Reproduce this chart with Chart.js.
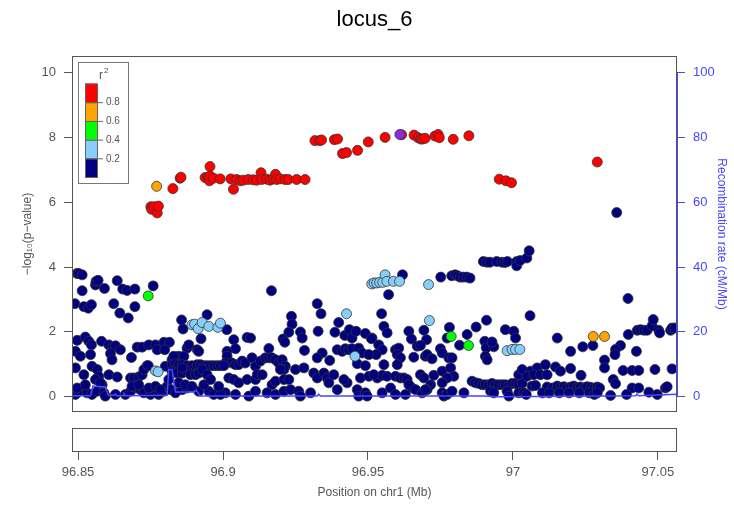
<!DOCTYPE html>
<html>
<head>
<meta charset="utf-8">
<script src="https://cdn.jsdelivr.net/npm/chart.js@4.4.1/dist/chart.umd.min.js"></script>
<style>
  body { margin: 0; background: #fff; }
  #wrap { position: relative; width: 734px; height: 506px; }
  canvas { position: absolute; left: 0; top: 0; }
</style>
</head>
<body>
<div id="wrap">
  <canvas id="main" width="734" height="506"></canvas>
  <canvas id="genes" width="734" height="506"></canvas>
</div>
<script>
// DATA  (position in Mb, -log10 p)
const posRange = [96.8479, 97.0566];
const posTicks = [96.85, 96.9, 96.95, 97, 97.05];
const logpTicks = [0, 2, 4, 6, 8, 10];
const recombTicks = [0, 20, 40, 60, 80, 100];
const r2Breaks = [0.2, 0.4, 0.6, 0.8];

const leadSnp = [[96.9610, 8.09]];

const redSnps = [
  [96.8751,5.86],[96.8754,5.78],[96.8762,5.86],[96.8773,5.67],[96.8777,5.88],[96.8827,6.42],[96.8852,6.74],[96.8855,6.77],
  [96.8938,6.76],[96.8949,6.76],[96.8953,6.66],[96.8955,6.81],[96.8955,7.10],[96.8967,6.74],[96.8990,6.72],[96.9036,6.40],
  [96.9027,6.72],[96.9047,6.70],[96.9059,6.66],[96.9070,6.68],[96.9087,6.70],[96.9104,6.69],[96.9116,6.68],[96.9131,6.91],
  [96.9133,6.70],[96.9151,6.71],[96.9162,6.68],[96.9173,6.72],[96.9181,6.86],[96.9185,6.70],[96.9197,6.72],[96.9214,6.70],
  [96.9225,6.70],[96.9254,6.70],[96.9283,6.70],[96.9317,7.90],[96.9334,7.90],[96.9340,7.92],[96.9384,7.93],[96.9395,7.95],
  [96.9412,7.50],[96.9426,7.53],[96.9464,7.60],[96.9501,7.86],[96.9559,8.00],[96.9616,8.08],[96.9659,8.07],[96.9673,7.99],
  [96.9682,7.95],[96.9688,7.95],[96.9697,7.97],[96.9731,8.04],[96.9742,8.09],[96.9746,7.99],[96.9794,7.94],[96.9848,8.05],
  [96.9953,6.71],[96.9976,6.66],[96.9995,6.60],[97.0291,7.24]
];

const orangeSnps = [[96.8771,6.49],[97.0277,1.86],[97.0316,1.86]];

const greenSnps = [[96.8742,3.11],[96.9787,1.86],[96.9847,1.58]];

const lightBlueSnps = [
  [96.8767,0.80],[96.8776,0.77],[96.8893,2.22],[96.8902,2.24],[96.8914,2.10],[96.8928,2.29],[96.8951,2.17],[96.8982,2.14],
  [96.8991,2.27],[96.9426,2.56],[96.9455,1.25],[96.9513,3.48],[96.9521,3.51],[96.9530,3.51],[96.9540,3.53],[96.9551,3.53],
  [96.9559,3.76],[96.9565,3.56],[96.9588,3.56],[96.9609,3.56],[96.9709,3.46],[96.9712,2.35],[96.9980,1.42],[96.9997,1.46],
  [97.0009,1.46],[97.0024,1.46]
];

const navyLeft = [
  [96.8496,3.80],[96.8502,3.80],[96.8514,3.76],[96.8514,3.27],[96.8560,3.45],[96.8562,3.56],[96.8569,3.59],[96.8591,3.34],
  [96.8635,3.58],[96.8654,3.32],[96.8669,3.28],[96.8696,3.32],[96.8759,3.42],[96.8489,2.87],[96.8520,2.78],[96.8535,2.73],
  [96.8546,2.84],[96.8623,2.87],[96.8696,2.78],[96.8644,2.58],[96.8673,2.43],[96.8857,2.37],[96.8862,2.09],[96.8945,2.53],
  [96.8924,1.79],[96.8497,1.74],[96.8525,1.84],[96.8537,1.71],[96.8546,1.60],[96.8581,1.71],[96.8606,1.60],[96.8620,1.53],
  [96.8629,1.57],[96.8646,1.45],[96.8704,1.53],[96.8721,1.53],[96.8744,1.60],[96.8767,1.60],[96.8773,1.45],[96.8796,1.68],
  [96.8815,1.68],[96.8799,1.45],[96.8876,1.50],[96.8882,1.60],[96.8911,1.45],[96.8916,1.40],[96.8491,1.40],[96.8508,1.25],
  [96.8543,1.30],[96.8612,1.33],[96.8617,1.14],[96.8684,1.21],[96.8738,0.96],[96.8824,1.14],[96.8847,1.25],[96.8865,1.25],
  [96.8830,1.25],[96.8491,0.89],[96.8520,0.68],[96.8548,0.94],[96.8566,0.84],[96.8571,0.63],[96.8606,0.68],[96.8635,0.61],
  [96.8681,0.58],[96.8692,0.58],[96.8709,0.61],[96.8721,0.68],[96.8727,0.84],[96.8742,0.96],[96.8801,0.94],
  [96.8824,0.99],[96.8836,1.02],[96.8847,0.99],[96.8859,0.99],[96.8876,0.96],[96.8893,0.96],[96.8911,0.99],[96.8922,0.99],
  [96.8934,0.96],[96.8945,0.96],[96.8957,0.96],[96.8968,0.96],[96.8980,0.96],[96.8991,0.96],[96.9003,0.96],
  [96.8824,0.78],[96.8842,0.73],[96.8859,0.73],[96.8876,0.78],[96.8888,0.68],[96.8905,0.68],[96.8916,0.73],[96.8928,0.84],
  [96.8945,0.68],[96.8859,0.89],[96.8491,0.07],[96.8502,0.17],[96.8531,0.12],[96.8548,0.07],[96.8566,0.17],[96.8583,0.37],
  [96.8589,0.12],[96.8594,0.02],[96.8629,0.07],[96.8663,0.07],[96.8681,0.17],[96.8692,0.32],[96.8704,0.27],[96.8715,0.22],
  [96.8727,0.12],[96.8750,0.07],[96.8778,0.07],[96.8796,0.17],[96.8807,0.32],[96.8819,0.22],[96.8836,0.12],[96.8859,0.22],
  [96.8876,0.27],[96.8916,0.17],[96.8951,0.17],[96.8968,0.07],[96.8991,0.07],[96.8497,0.27],[96.8525,0.37],[96.8560,0.53],
  [96.8577,0.43],[96.8686,0.32],[96.8709,0.37],[96.8744,0.27],[96.8767,0.32],[96.8784,0.22],[96.8813,0.53],[96.8847,0.43],
  [96.8870,0.37],[96.8893,0.32],[96.8934,0.37],[96.8957,0.53],[96.8985,0.32]
];

const navyMid = [
  [96.9167,3.27],[96.9325,2.87],[96.9338,2.56],[96.9236,2.48],[96.9238,2.24],[96.9227,1.99],[96.9267,2.00],[96.9273,1.81],
  [96.9207,1.78],[96.9213,1.68],[96.9328,2.02],[96.9386,1.99],[96.9399,2.29],[96.9420,1.89],[96.9436,2.07],[96.9445,1.81],
  [96.9459,2.02],[96.9491,1.95],[96.9512,1.79],[96.9013,2.07],[96.9037,1.76],[96.9083,1.83],[96.9095,1.81],[96.9158,1.49],
  [96.9281,1.43],[96.9342,1.35],[96.9325,1.20],[96.9368,1.12],[96.9394,1.45],[96.9411,1.40],[96.9422,1.48],[96.9434,1.45],
  [96.9445,1.48],[96.9468,1.50],[96.9480,1.35],[96.9503,1.30],[96.9463,1.02],[96.9491,0.96],[96.9043,1.48],
  [96.9014,1.40],[96.9014,1.25],[96.9008,1.04],[96.9031,1.04],[96.9043,0.99],[96.9054,0.99],[96.9066,1.10],[96.9077,1.04],
  [96.9100,1.20],[96.9112,0.94],[96.9129,1.10],[96.9146,1.20],[96.9158,1.20],[96.9169,1.20],[96.9181,1.14],[96.9192,1.04],
  [96.9204,1.14],[96.9215,0.94],[96.9210,0.84],[96.9198,0.84],[96.9250,0.84],[96.9279,0.89],[96.9313,0.73],[96.9325,0.58],
  [96.9348,0.73],[96.9359,0.58],[96.9365,0.43],[96.9382,0.68],[96.9428,0.43],[96.9417,0.53],[96.9474,0.58],[96.9503,0.63],
  [96.9520,0.68],[96.9020,0.58],[96.9037,0.53],[96.9054,0.43],[96.9083,0.53],[96.9112,0.53],[96.9118,0.68],[96.9135,0.68],
  [96.9169,0.37],[96.9181,0.48],[96.9210,0.53],[96.9227,0.53],[96.9008,0.12],[96.9043,0.07],[96.9089,0.02],[96.9112,0.17],
  [96.9152,0.12],[96.9181,0.07],[96.9210,0.17],[96.9233,0.22],[96.9261,0.17],[96.9267,0.02],[96.9302,0.12],[96.9394,0.22],
  [96.9463,0.22],[96.9468,0.02],[96.9491,0.12],[96.9497,0.02]
];

const navyRight = [
  [96.9619,3.76],[96.9751,3.69],[96.9789,3.73],[96.9801,3.76],[96.9809,3.73],[96.9818,3.69],[96.9829,3.69],[96.9841,3.69],
  [96.9852,3.66],[96.9571,3.15],[96.9898,4.17],[96.9910,4.15],[96.9921,4.15],[96.9944,4.17],[96.9962,4.15],[96.9973,4.14],
  [96.9981,4.17],[97.0013,4.17],[97.0013,4.04],[97.0025,4.20],[97.0048,4.28],[97.0056,4.50],[97.0059,2.50],[97.0397,3.03],
  [97.0358,5.68],[96.9547,2.56],[96.9555,2.17],[96.9566,1.97],[96.9641,2.02],[96.9650,1.78],[96.9693,2.05],[96.9702,1.76],
  [96.9781,2.14],[96.9773,1.81],[96.9842,1.92],[96.9816,1.59],[96.9873,2.15],[96.9909,2.36],[96.9903,1.71],[96.9908,1.51],
  [96.9934,1.54],[96.9928,1.69],[96.9905,1.25],[96.9911,1.14],[96.9974,2.07],[97.0003,2.02],[97.0009,1.81],
  [96.9514,1.81],[96.9537,1.60],[96.9549,1.45],[96.9528,1.30],[96.9595,1.45],[96.9606,1.50],[96.9601,1.30],[96.9612,1.20],
  [96.9670,1.56],[96.9681,1.58],[96.9658,1.22],[96.9698,1.25],[96.9704,1.30],[96.9721,1.17],[96.9750,1.48],[96.9756,1.35],
  [96.9779,1.20],[96.9790,1.20],[96.9555,0.99],[96.9601,0.99],[96.9681,0.68],[96.9693,0.58],[96.9727,0.66],[96.9756,0.79],
  [96.9785,0.89],[96.9796,0.63],[96.9773,0.58],[96.9532,0.58],[96.9549,0.66],[96.9566,0.63],[96.9595,0.63],[96.9612,0.58],
  [96.9624,0.58],[96.9635,0.53],[96.9652,0.27],[96.9641,0.37],[96.9716,0.37],[96.9704,0.22],[96.9756,0.43],
  [96.9549,0.12],[96.9578,0.27],[96.9595,0.07],[96.9629,0.07],[96.9664,0.22],[96.9687,0.12],[96.9698,0.22],[96.9756,0.12],
  [96.9762,0.02],[96.9773,0.07],[96.9790,0.17],[96.9831,0.12],
  [96.9859,0.48],[96.9871,0.43],[96.9882,0.41],[96.9894,0.37],[96.9905,0.37],[96.9917,0.37],[96.9928,0.41],[96.9940,0.37],
  [96.9951,0.37],[96.9963,0.37],[96.9974,0.37],[96.9986,0.35],[96.9997,0.41],[97.0009,0.41],[97.0020,0.37],[97.0032,0.41],
  [96.9923,0.17],[96.9934,0.12],[96.9980,0.17],[96.9986,0.02],[97.0020,0.12],[97.0038,0.12],[97.0020,0.68],[97.0032,0.84],
  [97.0153,1.81],[97.0276,1.58],[97.0241,1.54],[97.0199,1.40],[97.0371,1.58],[97.0354,1.46],[97.0352,1.30],[97.0398,1.92],
  [97.0426,1.40],[97.0429,2.05],[97.0440,2.07],[97.0452,2.05],[97.0463,2.05],[97.0480,2.19],[97.0484,2.38],[97.0503,2.05],
  [97.0506,1.97],[97.0544,2.05],[97.0549,2.12],[97.0559,2.12],[97.0316,1.13],[97.0316,0.89],[97.0061,0.79],[97.0084,0.89],
  [97.0112,0.99],[97.0147,0.92],[97.0164,0.79],[97.0199,0.87],[97.0380,0.81],[97.0411,0.81],[97.0434,0.81],[97.0490,0.84],
  [97.0549,0.86],[97.0049,0.63],[97.0072,0.68],[97.0095,0.68],[97.0118,0.68],[97.0235,0.66],[97.0346,0.53],[97.0354,0.40],
  [97.0066,0.33],[97.0078,0.35],
  [97.0118,0.30],[97.0135,0.27],[97.0153,0.33],[97.0164,0.29],[97.0176,0.31],[97.0187,0.27],[97.0199,0.30],[97.0210,0.33],
  [97.0222,0.28],[97.0233,0.30],[97.0245,0.27],[97.0256,0.31],[97.0268,0.29],[97.0279,0.26],[97.0291,0.30],[97.0299,0.27],
  [97.0102,0.12],[97.0125,0.12],[97.0160,0.12],[97.0194,0.12],[97.0229,0.12],[97.0263,0.12],[97.0281,0.07],[97.0291,0.12],
  [97.0411,0.27],[97.0434,0.27],[97.0469,0.14],[97.0498,0.07],[97.0526,0.27],[97.0532,0.31],[97.0046,0.07],[97.0337,0.04],
  [97.0392,0.07]
];

// recombination rate (cM/Mb)
const recombPos = [96.8479, 96.8543, 96.8551, 96.8594, 96.8604, 96.8625, 96.8629, 96.8634, 96.8655, 96.8658, 96.8662,
  96.8807, 96.8813, 96.8824, 96.8836, 96.8899, 96.8907, 96.8922, 96.9325, 96.9330, 96.9336, 96.9900, 96.9950,
  97.0424, 97.0428, 97.0433, 97.0566];
const recombRate = [0.3, 0.3, 3.3, 3.0, 0.5, 0.5, 0.9, 0.3, 0.3, 0.9, 0.3,
  0.5, 8.4, 8.4, 1.5, 1.5, 2.0, 0.2, 0.2, 0.8, 0.2, 0.2, 0.0,
  0.3, 0.8, 0.3, 0.8];

// STYLE
const blue = '#4747ff';
const grey = '#555555';
const r2Colors = ['#000080', '#87cefa', '#00ff00', '#ffa500', '#ff0000'];

Chart.defaults.font.family = "'Liberation Sans', Arial, sans-serif";

function toXY(pts) {
  return pts.map(p => ({ x: p[0], y: p[1] }));
}

function snpSet(label, pts, color, order) {
  return {
    label: label,
    data: toXY(pts),
    yAxisID: 'y',
    backgroundColor: color,
    borderColor: '#333333',
    borderWidth: 0.8,
    pointRadius: 5,
    pointHoverRadius: 5,
    order: order
  };
}

// box round the plot and the blue axis line
const frame = {
  id: 'frame',
  afterDraw(chart) {
    const { ctx, chartArea: a, scales } = chart;
    ctx.save();
    ctx.strokeStyle = grey;
    ctx.lineWidth = 1;
    ctx.strokeRect(a.left + 0.5, a.top + 0.5, a.right - a.left - 1, a.bottom - a.top - 1);
    if (scales.y2) {
      ctx.strokeStyle = blue;
      ctx.beginPath();
      ctx.moveTo(a.right + 0.5, scales.y2.getPixelForValue(recombTicks[0]));
      ctx.lineTo(a.right + 0.5, scales.y2.getPixelForValue(recombTicks[recombTicks.length - 1]));
      ctx.stroke();
    }
    ctx.restore();
  }
};

// r2 colour key, top left inside the plot
const r2Key = {
  id: 'r2Key',
  afterDraw(chart) {
    const { ctx, chartArea: a } = chart;
    const x0 = a.left + 6, y0 = a.top + 6;
    ctx.save();
    ctx.fillStyle = '#fff';
    ctx.fillRect(x0, y0, 50, 121);
    ctx.strokeStyle = '#777';
    ctx.lineWidth = 1;
    ctx.strokeRect(x0 + 0.5, y0 + 0.5, 50, 121);

    const bx = x0 + 7, bw = 12, segH = 18.7, by = y0 + 21.5;
    for (let i = 0; i < r2Colors.length; i++) {
      const top = by + (r2Colors.length - 1 - i) * segH;
      ctx.fillStyle = r2Colors[i];
      ctx.fillRect(bx, top, bw, segH);
      ctx.strokeStyle = '#666';
      ctx.strokeRect(bx + 0.5, top + 0.5, bw, segH);
    }
    ctx.fillStyle = grey;
    ctx.font = "10px 'Liberation Sans', Arial, sans-serif";
    ctx.textBaseline = 'middle';
    ctx.textAlign = 'left';
    r2Breaks.forEach((b, i) => {
      const y = by + (r2Colors.length - 1 - i) * segH + 0.5;
      ctx.beginPath();
      ctx.moveTo(bx + bw, y);
      ctx.lineTo(bx + bw + 6, y);
      ctx.stroke();
      ctx.fillText(String(b), bx + bw + 9, y);
    });
    ctx.font = "12px 'Liberation Sans', Arial, sans-serif";
    ctx.fillText('r', x0 + 21, y0 + 14);
    ctx.font = "8px 'Liberation Sans', Arial, sans-serif";
    ctx.fillText('2', x0 + 26, y0 + 9);
    ctx.restore();
  }
};

new Chart(document.getElementById('main'), {
  type: 'scatter',
  data: {
    datasets: [
      {
        label: 'recombination',
        data: recombPos.map((x, i) => ({ x: x, y: recombRate[i] })),
        yAxisID: 'y2',
        showLine: true,
        borderColor: blue,
        borderWidth: 1.5,
        pointRadius: 0,
        order: 0
      },
      snpSet('r2 < 0.2', navyLeft, r2Colors[0], 6),
      snpSet('r2 < 0.2', navyMid, r2Colors[0], 6),
      snpSet('r2 < 0.2', navyRight, r2Colors[0], 6),
      snpSet('0.2 - 0.4', lightBlueSnps, r2Colors[1], 5),
      snpSet('0.4 - 0.6', greenSnps, r2Colors[2], 4),
      snpSet('0.6 - 0.8', orangeSnps, r2Colors[3], 3),
      snpSet('> 0.8', redSnps, r2Colors[4], 2),
      snpSet('lead', leadSnp, '#8a2be2', 1)
    ]
  },
  options: {
    responsive: false,
    animation: false,
    devicePixelRatio: 1,
    events: [],
    layout: { padding: { top: 0, left: 0, right: 0, bottom: 94 } },
    plugins: {
      legend: { display: false },
      tooltip: { enabled: false },
      title: {
        display: true,
        text: 'locus_6',
        fullSize: false,
        color: '#000',
        font: { size: 22, weight: 'normal' },
        padding: { top: 7, bottom: 22.6 }
      }
    },
    scales: {
      x: { type: 'linear', min: posRange[0], max: posRange[1], display: false },
      y: {
        position: 'left',
        min: -0.47,
        max: 10.51,
        afterBuildTicks: s => { s.ticks = logpTicks.map(v => ({ value: v })); },
        afterFit: s => { s.width = 72; },
        grid: { drawOnChartArea: false, tickLength: 8, color: grey },
        border: { display: false },
        ticks: { color: grey, font: { size: 13 }, padding: 8 },
        title: {
          display: true,
          text: '\u2212log\u2081\u2080(p\u2212value)',
          color: grey,
          font: { size: 12 },
          padding: { top: 20, bottom: 0 }
        }
      },
      y2: {
        position: 'right',
        min: -4.7,
        max: 105.1,
        afterBuildTicks: s => { s.ticks = recombTicks.map(v => ({ value: v })); },
        afterFit: s => { s.width = 57; },
        grid: { drawOnChartArea: false, tickLength: 8, color: blue },
        border: { display: false },
        ticks: { color: blue, font: { size: 13 }, padding: 8 },
        title: {
          display: true,
          text: 'Recombination rate (cM/Mb)',
          color: blue,
          font: { size: 12 },
          padding: { top: 5, bottom: 0 }
        }
      }
    }
  },
  plugins: [frame, r2Key]
});

// gene panel (empty) carrying the position axis
new Chart(document.getElementById('genes'), {
  type: 'scatter',
  data: { datasets: [{ data: [] }] },
  options: {
    responsive: false,
    animation: false,
    devicePixelRatio: 1,
    events: [],
    layout: { padding: { top: 428, left: 72, right: 57, bottom: 0 } },
    plugins: { legend: { display: false }, tooltip: { enabled: false } },
    scales: {
      x: {
        type: 'linear',
        min: posRange[0],
        max: posRange[1],
        afterBuildTicks: s => { s.ticks = posTicks.map(v => ({ value: v })); },
        afterFit: s => { s.height = 54; },
        grid: { drawOnChartArea: false, tickLength: 8, color: grey },
        border: { display: false },
        ticks: { color: grey, font: { size: 13 }, padding: 5, maxRotation: 0, autoSkip: false, callback: v => String(v) },
        title: {
          display: true,
          text: 'Position on chr1 (Mb)',
          color: grey,
          font: { size: 12 },
          padding: { top: 0, bottom: 6 }
        }
      },
      y: { display: false, min: 0, max: 1 }
    }
  },
  plugins: [frame]
});
</script>
</body>
</html>
